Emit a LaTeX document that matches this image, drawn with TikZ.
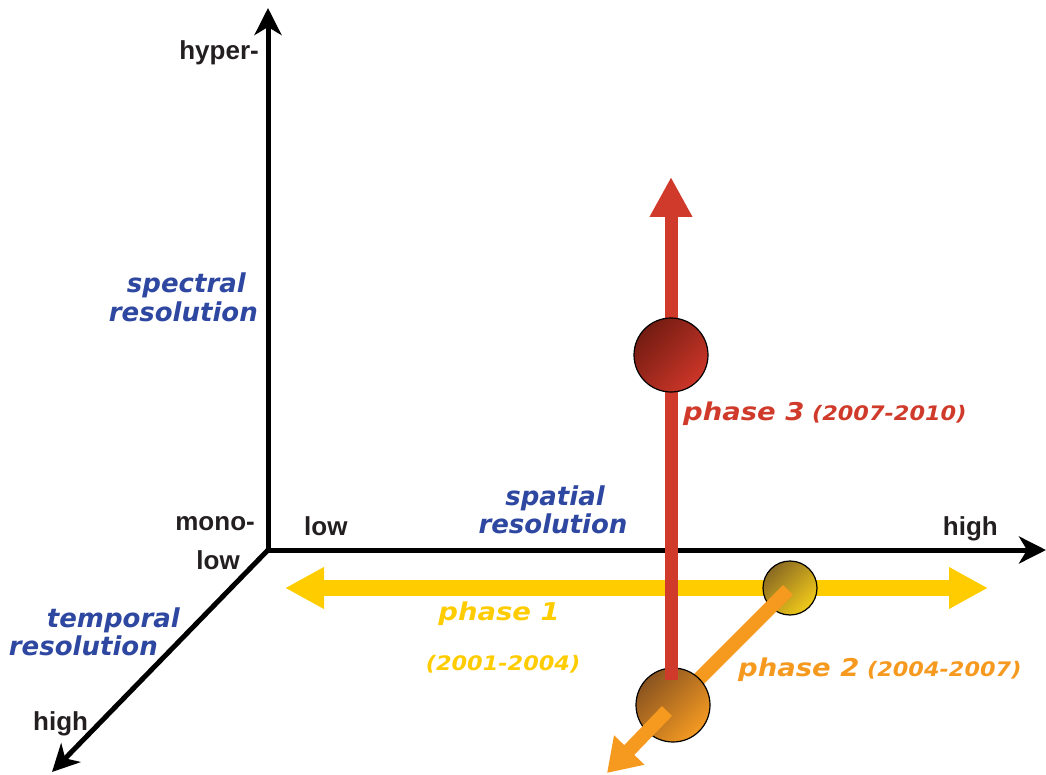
\documentclass[tikz,border=0pt]{standalone}
\usepackage{fontspec}
\setsansfont{Liberation Sans}
\newfontfamily\labfont{DejaVu Sans}
\newfontfamily\widefont{DejaVu Sans}[FakeStretch=1.12]
\usetikzlibrary{arrows.meta}
\definecolor{ink}{HTML}{231F20}
\definecolor{axblue}{HTML}{2E47A0}
\definecolor{pyellow}{HTML}{FFCC00}
\definecolor{porange}{HTML}{F6991F}
\definecolor{pred}{HTML}{D03A2A}
\definecolor{ballredi}{HTML}{741C12}
\definecolor{ballredii}{HTML}{CC3628}
\definecolor{ballyeli}{HTML}{8A6A22}
\definecolor{ballyelii}{HTML}{F2CB1A}
\definecolor{ballori}{HTML}{8A5420}
\definecolor{ballorii}{HTML}{F59A22}
\tikzset{
  axis/.style   = {draw=black, line width=5pt, -{Stealth[length=27pt,width=27pt,inset=8pt]}},
  track/.style  = {line width=#1},
  ball/.style   = {circle, draw=black, line width=1.2pt, inner sep=0pt},
  tick/.style   = {font=\fontsize{26}{30}\selectfont\sffamily\bfseries, text=ink, inner sep=0pt},
  axlab/.style  = {font=\fontsize{26}{30}\selectfont\labfont\bfseries\itshape, text=axblue, inner sep=0pt},
  phase/.style  = {font=\fontsize{24.5}{28}\selectfont\widefont\bfseries\itshape, inner sep=0pt},
  years/.style  = {font=\fontsize{20}{24}\selectfont\widefont\bfseries\itshape, inner sep=0pt},
}
\newcommand\yrsize{\hspace{-2pt}\fontsize{20}{24}\selectfont}
\begin{document}
\begin{tikzpicture}[x=1pt,y=1pt]
\path[use as bounding box] (-268,-224) rectangle (778,550);

% ---- the three axes ------------------------------------------------------
\coordinate (O) at (0,0);
\coordinate (spectip) at (0,542);
\coordinate (spattip) at (778,0);
\coordinate (temptip) at (-216,-222);
\draw[axis] (O) -- (spectip);
\draw[axis] (O) -- (spattip);
\draw[axis] (O) -- (temptip);

% ---- phase 1: along spatial resolution ------------------------------------
\coordinate (p1left)  at (17,-38);
\coordinate (p1right) at (720,-38);
\draw[pyellow, track=16pt, {Triangle[length=39pt,width=39pt]}-{Triangle[length=39pt,width=39pt]}] (p1left) -- (p1right);
\node[ball, minimum size=54pt, top color=ballyeli, bottom color=ballyelii, shading angle=45] (p1) at (522,-38) {};

% ---- phase 2: towards high temporal resolution ----------------------------
\coordinate (p2start) at (520,-40);
\coordinate (p2out)   at (399,-161);
\coordinate (p2tip)   at (339,-223);
\coordinate (p2c)     at (405,-155);
\draw[porange, track=14pt] (p2start) -- (p2c);
\node[ball, minimum size=74pt, top color=ballori, bottom color=ballorii, shading angle=45] (p2) at (p2c) {};

% ---- phase 3: up to hyperspectral -----------------------------------------
\coordinate (p3foot) at (403,-130);
\coordinate (p3tip)  at (403,373);
\draw[pred, track=13pt, -{Triangle[length=40pt,width=40pt]}] (p3foot) -- (p3tip);
\node[ball, minimum size=74pt, top color=ballredi, bottom color=ballredii, shading angle=45] (p3) at (403,195) {};

\draw[porange, track=14pt, -{Triangle[length=32pt,width=40pt]}] (p2out) -- (p2tip);

% ---- axis labels ----------------------------------------------------------
\node[tick, anchor=base east] (hyper) at (-9,490) {hyper-};
\node[tick, anchor=base east] (mono)  at (-13,20) {mono-};
\node[tick, anchor=base east] (tlow)  at (-28,-19) {low};
\node[tick, anchor=base west] (slow)  at (36,15) {low};
\node[tick, anchor=base east] (shigh) at (730,15) {high};
\node[tick, anchor=base west] (thigh) at (-235,-180) {high};

\node[axlab, anchor=base east] (spec)  at (-22,257) {spectral};
\node[axlab, anchor=base east] (specr) at (-10,228) {resolution};
\node[axlab, anchor=base] (spat)  at (287,45) {spatial};
\node[axlab, anchor=base] (spatr) at (285,17) {resolution};
\node[axlab, anchor=base east] (temp)  at (-88,-77) {temporal};
\node[axlab, anchor=base east] (tempr) at (-110,-105) {resolution};

% ---- phase labels -----------------------------------------------------------
\node[phase, text=pyellow, anchor=base] (ph1) at (231,-70) {phase 1};
\node[years, text=pyellow, anchor=base] (yr1) at (235,-120) {(2001-2004)};
\node[phase, text=porange, anchor=base west] (ph2) at (470,-126) {phase 2 \yrsize(2004-2007)};
\node[phase, text=pred, anchor=base west] (ph3) at (415,130) {phase 3 \yrsize(2007-2010)};

\end{tikzpicture}
\end{document}
